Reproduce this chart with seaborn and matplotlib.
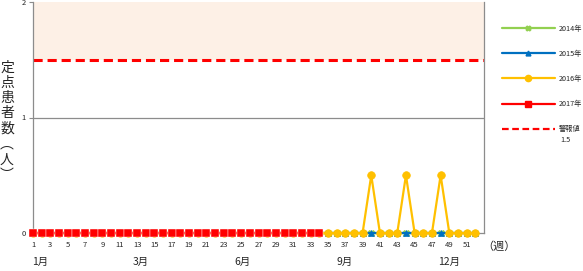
import matplotlib
matplotlib.use("Agg")
import matplotlib.pyplot as plt
import seaborn as sns
import pandas as pd
from matplotlib.lines import Line2D

sns.set_theme(style="white")
plt.rcParams['font.family'] = ['Noto Sans CJK JP', 'DejaVu Sans']

weeks = list(range(1, 53))
weeks_2017 = list(range(1, 35))
v2014 = [0, 0, 0, 0, 0, 0, 0, 0, 0, 0, 0, 0, 0, 0, 0, 0, 0, 0, 0, 0, 0, 0, 0, 0, 0, 0,
         0, 0, 0, 0, 0, 0, 0, 0, 0, 0, 0, 0, 0, 0, 0, 0, 0, 0, 0, 0, 0, 0, 0, 0, 0, 0]
v2015 = [0, 0, 0, 0, 0, 0, 0, 0, 0, 0, 0, 0, 0, 0, 0, 0, 0, 0, 0, 0, 0, 0, 0, 0, 0, 0,
         0, 0, 0, 0, 0, 0, 0, 0, 0, 0, 0, 0, 0, 0, 0, 0, 0, 0, 0, 0, 0, 0, 0, 0, 0, 0]
v2016 = [0, 0, 0, 0, 0, 0, 0, 0, 0, 0, 0, 0, 0, 0, 0, 0, 0, 0, 0, 0, 0, 0, 0, 0, 0, 0,
         0, 0, 0, 0, 0, 0, 0, 0, 0, 0, 0, 0, 0, 0.5, 0, 0, 0, 0.5, 0, 0, 0, 0.5, 0, 0, 0, 0]
v2017 = [0, 0, 0, 0, 0, 0, 0, 0, 0, 0, 0, 0, 0, 0, 0, 0, 0,
         0, 0, 0, 0, 0, 0, 0, 0, 0, 0, 0, 0, 0, 0, 0, 0, 0]
alert_level = 1.5
series_labels = ["2014年", "2015年", "2016年", "2017年"]
alert_label = "警報値"
alert_sub = "1.5"
xtick_labels = [str(w) for w in range(1, 53, 2)]
month_labels = ["1月", "3月", "6月", "9月", "12月"]
month_pos = [0.85, 12.5, 24.2, 36.0, 47.7]

fig = plt.figure(figsize=(5.83, 2.71), dpi=100)
ax = fig.add_axes([33 / 583, 38 / 271, (484 - 33) / 583, (233 - 2) / 271])

ax.axhspan(alert_level, 2, color="#FDF0E6", zorder=0, lw=0)
ax.axhline(1, color="#8C8C8C", lw=0.9, zorder=1)

styles = [
    (weeks, v2014, "#92D050", "X", 4.5, "#92D050", 0.5),
    (weeks, v2015, "#0070C0", "^", 4.5, "#0070C0", 0.5),
    (weeks, v2016, "#FFC000", "o", 5.5, "#FFC000", 0.5),
    (weeks_2017, v2017, "#FF0000", "s", 6.3, "white", 0.3),
]
handles = []
for (x, y, c, m, ms, mec, mew), lab in zip(styles, series_labels):
    df = pd.DataFrame({"week": x, "value": y})
    sns.lineplot(data=df, x="week", y="value", ax=ax, color=c, marker=m,
                 markersize=ms, markeredgecolor=mec, markeredgewidth=mew,
                 lw=1.6, zorder=3, clip_on=False)
    handles.append(Line2D([], [], color=c, marker=m, markersize=min(ms - 1, 5),
                          markeredgecolor=c, lw=1.6, label=lab))

ax.axhline(alert_level, color="#FF0000", ls=(0, (3, 1.6)), lw=2.2, zorder=2)
handles.append(Line2D([], [], color="#FF0000", ls=(0, (3, 1.6)), lw=1.6,
                      label=alert_label))

ax.set_xlim(1, 53)
ax.set_ylim(0, 2)
ax.set_xticks(list(range(1, 53, 2)))
ax.set_xticklabels(xtick_labels, fontsize=5.5)
ax.set_yticks([0, 1, 2])
ax.set_yticklabels(["0", "1", "2"], fontsize=5.5)
ax.tick_params(axis="x", length=0, pad=6)
ax.tick_params(axis="y", length=3, width=0.8, color="#8C8C8C", left=True, pad=2)
ax.set_xlabel("")
ax.set_ylabel("")
for s in ["left", "right", "bottom"]:
    ax.spines[s].set_color("#8C8C8C")
    ax.spines[s].set_linewidth(0.9)
ax.spines["top"].set_visible(False)

for lab, pos in zip(month_labels, month_pos):
    ax.text(pos, -0.125, lab, transform=ax.get_xaxis_transform(), fontsize=7.5,
            ha="left", va="center")
ax.text(52.8, -0.06, "（週）", transform=ax.get_xaxis_transform(), fontsize=8,
        ha="left", va="center")

fig.text(7 / 583, 1 - 121 / 271, "定\n点\n患\n者\n数\n︵\n人\n︶", fontsize=10,
         ha="center", va="center", linespacing=1.12)

leg = fig.legend(handles=handles, loc="upper left",
                 bbox_to_anchor=(502 / 583, 1 - 24.5 / 271), frameon=False,
                 fontsize=5.2, handlelength=7.3, handletextpad=0.5,
                 labelspacing=2.38, borderpad=0, borderaxespad=0)
fig.text(560 / 583, 1 - 140 / 271, alert_sub, fontsize=5.2, ha="left", va="center")

fig.savefig("out.png", dpi=100)
